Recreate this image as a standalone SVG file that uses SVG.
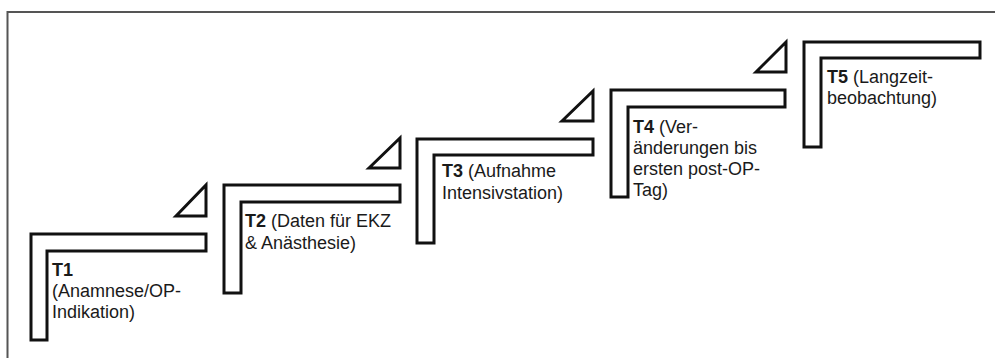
<svg xmlns="http://www.w3.org/2000/svg" width="995" height="358" viewBox="0 0 995 358">
<style>
.frame{fill:none;stroke:#555;stroke-width:2}
.step{fill:#fff;stroke:#111;stroke-width:3;stroke-linejoin:miter}
.tri{fill:#fff;stroke:#111;stroke-width:3;stroke-linejoin:miter}
text{font-family:"Liberation Sans",Arial,sans-serif;font-size:18px;fill:#1a1a1a}
.b{font-weight:bold}
</style>
<rect width="995" height="358" fill="#fff"/>
<path class="frame" d="M7.5,358 V12 H995"/>
<g id="step1">
<path class="step" d="M31,234 H206 V251 H47 V340 H31 Z"/>
<text x="52" y="276"><tspan class="b">T1</tspan><tspan x="52" dy="21">(Anamnese/OP-</tspan><tspan x="52" dy="21">Indikation)</tspan></text>
</g>
<g id="step2">
<path class="step" d="M224,185 H400 V202 H241 V293 H224 Z"/>
<text x="245" y="227"><tspan class="b">T2</tspan> (Daten für EKZ<tspan x="245" dy="22">&amp; Anästhesie)</tspan></text>
</g>
<g id="step3">
<path class="step" d="M417,139 H593 V155 H434 V243 H417 Z"/>
<text x="442" y="177"><tspan class="b">T3</tspan> (Aufnahme<tspan x="442" dy="22">Intensivstation)</tspan></text>
</g>
<g id="step4">
<path class="step" d="M611,90 H785 V107 H628 V197 H611 Z"/>
<text x="633" y="133"><tspan class="b">T4</tspan> (Ver-<tspan x="633" dy="21">änderungen bis</tspan><tspan x="633" dy="21">ersten post-OP-</tspan><tspan x="633" dy="21">Tag)</tspan></text>
</g>
<g id="step5">
<path class="step" d="M804,42 H980 V58 H821 V147 H804 Z"/>
<text x="827" y="83"><tspan class="b">T5</tspan> (Langzeit-<tspan x="827" dy="21">beobachtung)</tspan></text>
</g>
<g id="connectors">
<path class="tri" d="M176,216 L206,185 V216 Z"/>
<path class="tri" d="M369,168 L400,138 V168 Z"/>
<path class="tri" d="M562,121 L593,91 V121 Z"/>
<path class="tri" d="M756,72 L786,42 V72 Z"/>
</g>
</svg>
